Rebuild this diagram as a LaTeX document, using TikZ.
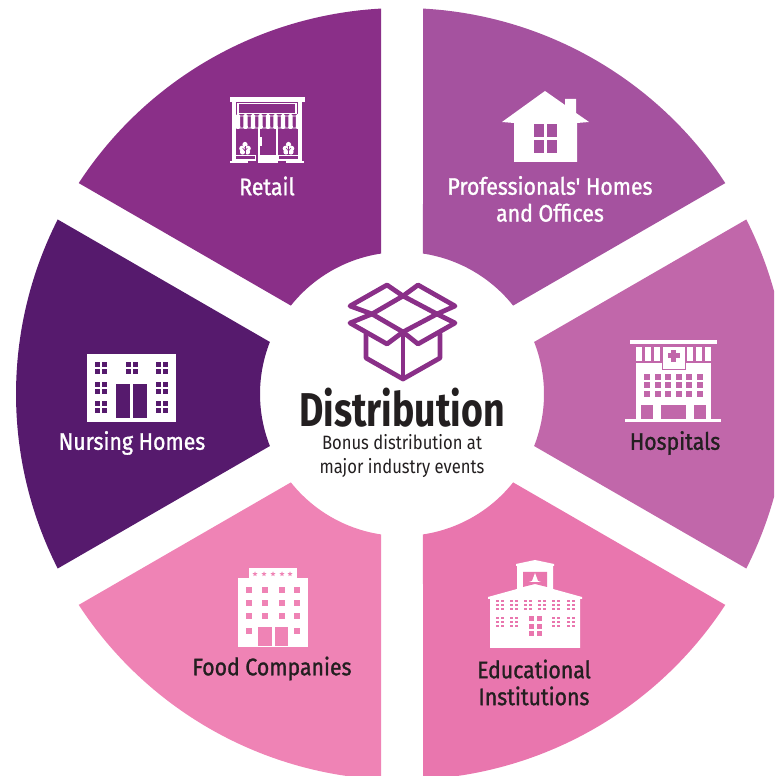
\documentclass[tikz,border=0pt]{standalone}
\usepackage{fontspec}
\usepackage{tikz}
\usetikzlibrary{shapes.geometric}
\setmainfont{Fira Sans}
\newfontfamily\narrowfont[FakeStretch=0.86]{Fira Sans}
\newfontfamily\medfont[FakeStretch=0.89,FakeBold=1.2]{Fira Sans}
\newfontfamily\headfont[FakeStretch=0.79]{Fira Sans}
\definecolor{retailcol}{HTML}{8A2F88}
\definecolor{profcol}{HTML}{A5529F}
\definecolor{hospcol}{HTML}{C167AA}
\definecolor{educcol}{HTML}{E976AE}
\definecolor{foodcol}{HTML}{EF83B5}
\definecolor{nurscol}{HTML}{561A6D}
\definecolor{inkcol}{HTML}{231F20}
\tikzset{
  lab/.style={font=\medfont\fontsize{13.6}{15.3}\selectfont,align=center,inner sep=0pt,text=inkcol},
  labw/.style={lab,text=white},
  boxline/.style={draw=retailcol,line width=2.7pt,line join=round,line cap=round}
}
% one slice of the ring, angles in degrees
\newcommand{\ringslice}[3]{
\fill[#3,shift={(402,382)}] (#1+3.12:386) arc (#1+3.12:#2-3.12:386) -- (#2-8.5:142) arc (#2-8.5:#1+8.5:142) -- cycle;
}
% four panes round a centre: x, y, half distance, half pane, colour
\newcommand{\panes}[5]{
\foreach \sx in {-1,1} \foreach \sy in {-1,1}
  \fill[#5] (#1+\sx*#3-#4,#2+\sy*#3-#4) rectangle (#1+\sx*#3+#4,#2+\sy*#3+#4);
}
% small tree in front of the shop
\newcommand{\shoptree}[1]{
\fill[white] (#1,144.5) circle (2.6);
\fill[white] (#1-3,148.5) circle (2.8);
\fill[white] (#1+3,148.5) circle (2.8);
\fill[white] (#1-2.5,152) circle (2.6);
\fill[white] (#1+2.5,152) circle (2.6);
\draw[retailcol,line width=0.3pt] (#1,146) -- (#1,155);
\draw[retailcol,line width=0.3pt] (#1-2.4,148) -- (#1,151) -- (#1+2.4,148);
}
\begin{document}
\begin{tikzpicture}[x=0.02cm,y=0.02cm]
\clip (0,0) rectangle (774,776);
\ringslice{90}{150}{retailcol}
\ringslice{30}{90}{profcol}
\ringslice{-30}{30}{hospcol}
\ringslice{-90}{-30}{educcol}
\ringslice{-150}{-90}{foodcol}
\ringslice{150}{210}{nurscol}
\begin{scope}[shift={(0,776)},yscale=-1]
%retail shop
\fill[white] (230,97) rectangle (305,102);
\fill[white] (232,102) rectangle (236,163);
\fill[white] (298,102) rectangle (302,163);
\draw[white,line width=0.7pt] (238,103.5) rectangle (296,113.5);
\draw[white,line width=0.4pt] (235,116) -- (300,116) -- (301,128) -- (234,128) -- cycle;
\foreach \x in {238,245.5,...,298}
  \fill[white,rounded corners=0.8pt] (\x-2,114) -- (\x+2,114) -- (\x+2.3,129) -- (\x-2.3,129) -- cycle;
\fill[white] (258,128) rectangle (260,163);
\fill[white] (275.5,128) rectangle (277.5,163);
\fill[white] (259,155) rectangle (276,163);
\fill[white] (260,137) rectangle (262,146);
\shoptree{245}
\shoptree{288.5}
\draw[white,line width=0.7pt] (234.5,155.5) rectangle (255.5,160);
\draw[white,line width=0.7pt] (278.5,155.5) rectangle (299.5,160);
\fill[white] (230,161.5) rectangle (248,163.5);
\fill[white] (286,161.5) rectangle (304,163.5);
%house
\fill[white] (502,122) -- (545,91) -- (565,105) -- (565,99) -- (576,99) -- (576,113) -- (589,122) -- (577,123) -- (577,162) -- (514,162) -- (514,123) -- cycle;
\foreach \x in {534,547} \foreach \y in {124,140}
  \fill[profcol] (\x,\y) rectangle (\x+10,\y+13);
%hospital
\fill[white] (630,340) rectangle (717,344);
\foreach \x in {636,645,654,687,696,705}
  \fill[white] (\x,347) rectangle (\x+6,361);
\fill[white] (636,363) rectangle (711,419);
\draw[hospcol,fill=white,line width=0.5pt] (662,346.5) rectangle (685,369);
\fill[hospcol] (671,350) rectangle (676,362);
\fill[hospcol] (667.5,353.5) rectangle (679.5,358.5);
\foreach \x in {647,657.5,668,678.5,689,700} \foreach \y in {377,385.5,394}
  \fill[hospcol] (\x-3,\y-3) rectangle (\x+3,\y+3);
\fill[hospcol] (641,405) rectangle (653,419);
\fill[hospcol] (661,405) rectangle (686,419);
\fill[hospcol] (694,405) rectangle (706,419);
\fill[white] (625,419) rectangle (721,422);
%school
\fill[white] (516,564) -- (535,560) -- (554,564) -- (554,566) -- (553,566) -- (553,589) -- (582,597) -- (582,599) -- (580,599) -- (580,648) -- (490,648) -- (490,599) -- (488,599) -- (488,597) -- (517,589) -- (517,566) -- (516,566) -- cycle;
\fill[educcol] (523,572) -- (547,572) -- (547,587) -- (535,584) -- (523,587) -- cycle;
\fill[white] (535,573) -- (538,581) -- (541,582) -- (529,582) -- (532,581) -- cycle;
\foreach \x in {500,514,528,542,556,571} {
  \foreach \y in {601,605,609} {
    \fill[educcol] (\x-3.8,\y-1.4) rectangle (\x-0.6,\y+1.4);
    \fill[educcol] (\x+0.6,\y-1.4) rectangle (\x+3.8,\y+1.4);
  }
}
\foreach \x in {500,514,556,571} {
  \foreach \y in {618,622,626} {
    \fill[educcol] (\x-3.8,\y-1.4) rectangle (\x-0.6,\y+1.4);
    \fill[educcol] (\x+0.6,\y-1.4) rectangle (\x+3.8,\y+1.4);
  }
}
\foreach \x in {529,537} \foreach \y in {616,624,631.5}
  \fill[educcol] (\x,\y) rectangle (\x+5,\y+5);
%food company
\fill[white] (249,568) rectangle (297,579);
\fill[white] (238,578) rectangle (308,647);
\foreach \x [count=\i] in {255,264,273,282,290}
  \node[star,star points=5,star point ratio=2.3,fill=foodcol,inner sep=0pt,minimum size=3pt] (star\i) at (\x,574) {};
\foreach \x in {249,265,282,297} \foreach \y in {590,603,616}
  \panes{\x}{\y}{1.8}{1.4}{foodcol}
\panes{249}{631}{1.8}{1.4}{foodcol}
\panes{297}{631}{1.8}{1.4}{foodcol}
\fill[foodcol] (258,627) rectangle (272,646);
\fill[foodcol] (275,627) rectangle (288,646);
%nursing home
\fill[white] (87,354) rectangle (176,422);
\panes{101}{368}{3.5}{2.4}{nurscol}
\panes{132}{368}{3.5}{2.4}{nurscol}
\panes{162}{368}{3.5}{2.4}{nurscol}
\panes{101}{388}{3.5}{2.4}{nurscol}
\panes{162}{388}{3.5}{2.4}{nurscol}
\panes{101}{407}{3.5}{2.4}{nurscol}
\panes{162}{407}{3.5}{2.4}{nurscol}
\fill[nurscol] (116,384) rectangle (130,418);
\fill[nurscol] (133,384) rectangle (147,418);
%inner box
\draw[boxline] (403,296) -- (437,314) -- (403,332) -- (372,314) -- cycle;
\draw[boxline] (403,296) -- (387,285) -- (350,306) -- (372,314);
\draw[boxline] (403,296) -- (418,285) -- (455,306) -- (437,314);
\draw[boxline] (372,314) -- (350,323) -- (387,344) -- (403,332);
\draw[boxline] (437,314) -- (455,323) -- (418,344) -- (403,332);
\draw[boxline] (366,334) -- (366,358) -- (403,379) -- (440,358) -- (440,334);
\draw[boxline] (403,332) -- (403,379);
%labels
\node[labw] (retail) at (267,186) {Retail};
\node[labw] (prof) at (550,199) {Professionals' Homes\\and Offices};
\node[lab] (hosp) at (675,443) {Hospitals};
\node[lab] (educ) at (534,682.5) {Educational\\Institutions};
\node[lab] (food) at (272,668.5) {Food Companies};
\node[labw] (nurs) at (132,443) {Nursing Homes};
\node[lab,font=\headfont\bfseries\fontsize{27}{30}\selectfont] (distr) at (402,408) {Distribution};
\node[lab,font=\narrowfont\fontsize{11}{13.2}\selectfont] (bonus) at (402,456) {Bonus distribution at\\major industry events};
\end{scope}
\end{tikzpicture}
\end{document}
